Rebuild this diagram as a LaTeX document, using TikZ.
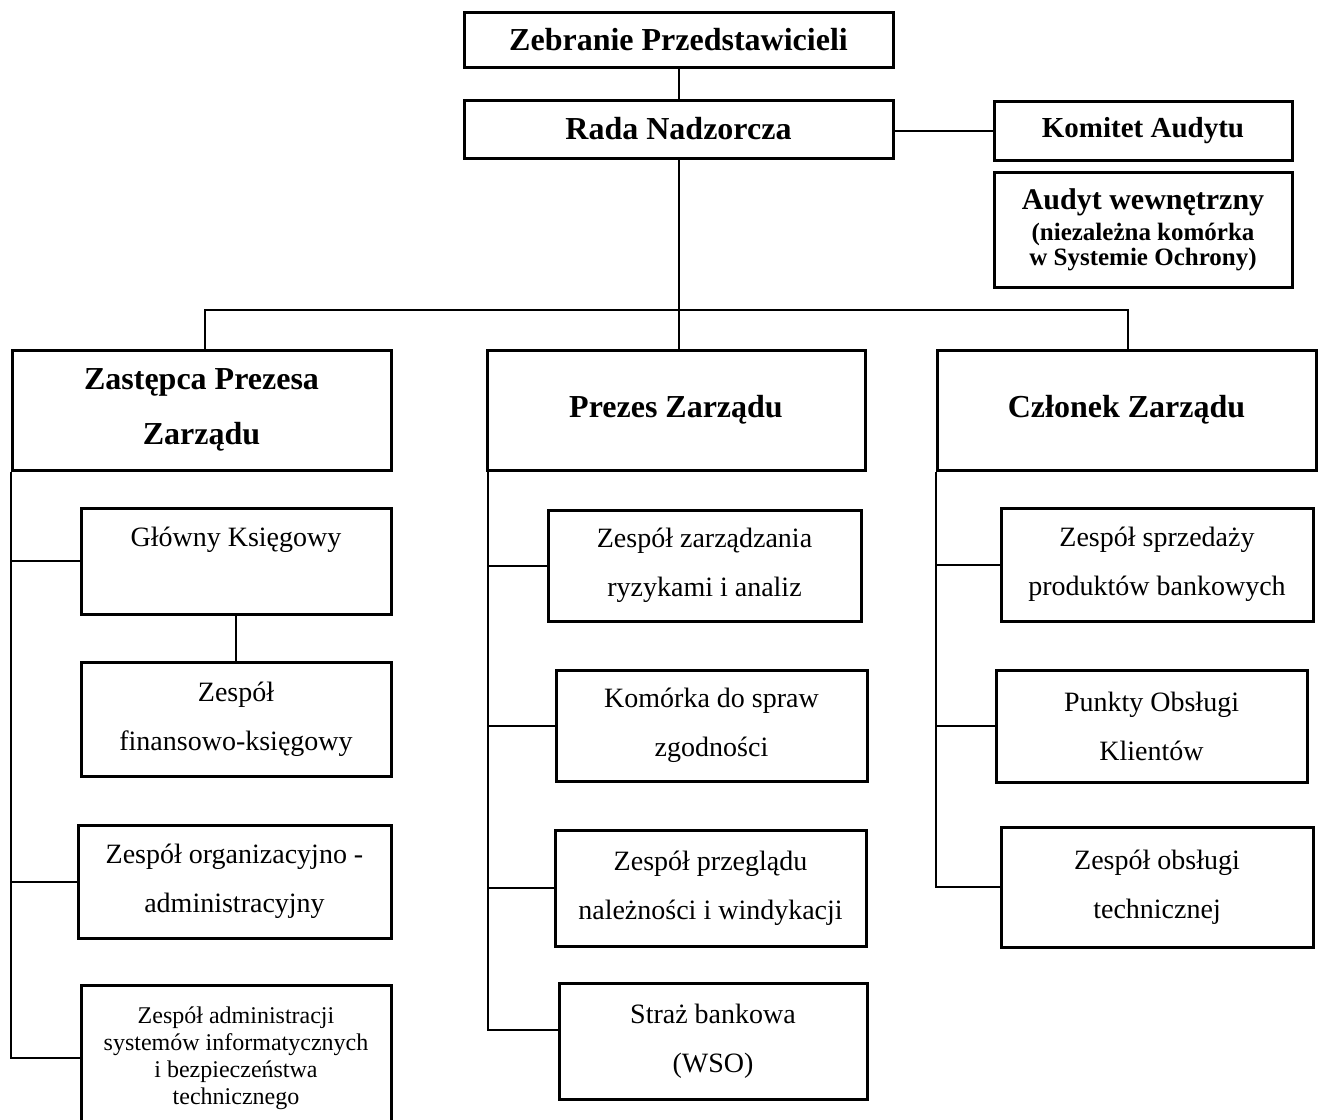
\documentclass[tikz,border=0pt]{standalone}
\usepackage{fontspec}
\setmainfont{Liberation Serif}
\usetikzlibrary{positioning}

\tikzset{
  unit/.style={draw, line width=1.5pt, inner sep=0pt, align=center,
    font=\fontsize{14}{24.5}\selectfont},
  head/.style={unit, font=\bfseries\fontsize{16}{27.5}\selectfont},
  link/.style={line width=1pt},
}

\begin{document}
\begin{tikzpicture}[x=0.5pt,y=-0.5pt]
  \useasboundingbox (0,0) rectangle (1325,1119);

  % Top level
  \node[head, minimum width=214.5pt, minimum height=27.5pt] (zebranie) at (678.5,39.5) {Zebranie Przedstawicieli};
  \node[head, minimum width=214.5pt, minimum height=29pt]   (rada)     at (678.5,129)  {Rada Nadzorcza};
  \node[head, minimum width=149pt, minimum height=29.5pt, font=\bfseries\fontsize{14.5}{17}\selectfont]
                                                            (komitet)  at (1143,130.5) {Komitet Audytu};
  \node[unit, minimum width=149pt, minimum height=57.5pt, font=\bfseries\fontsize{12.5}{12.5}\selectfont]
                                                            (audyt)    at (1143,229.5)
        {{\fontsize{15}{17}\selectfont Audyt wewnętrzny}\\[3pt] (niezależna komórka\\ w Systemie Ochrony)};

  % Board
  \node[head, minimum width=189.5pt, minimum height=60pt] (zastepca) at (201.5,410)  {Zastępca Prezesa\\ Zarządu};
  \node[head, minimum width=189pt,   minimum height=60pt] (prezes)   at (676,410)    {Prezes Zarządu};
  \node[head, minimum width=189.5pt, minimum height=60pt] (czlonek)  at (1126.5,410) {Członek Zarządu};

  % Units of the deputy president
  \node[unit, minimum width=155pt,  minimum height=53pt]   (glowny) at (236,561)    {Główny Księgowy\\[-8pt] \strut};
  \node[unit, minimum width=155pt,  minimum height=57pt]   (zfk)    at (236,719)    {Zespół\\ finansowo-księgowy};
  \node[unit, minimum width=156.5pt,minimum height=56.5pt] (zorg)   at (234.5,881.5) {Zespół organizacyjno -\\ administracyjny};
  \node[unit, minimum width=155pt,  minimum height=73pt, font=\fontsize{12}{13.5}\selectfont]
                                                           (zadm)   at (236,1058)
        {Zespół administracji\\ systemów informatycznych\\ i bezpieczeństwa\\ technicznego};

  % Units of the president
  \node[unit, minimum width=156.5pt, minimum height=55.5pt] (zrz)   at (704.5,565.5) {Zespół zarządzania\\ ryzykami i analiz};
  \node[unit, minimum width=155.5pt, minimum height=55.5pt] (kom)   at (711.5,725.5) {Komórka do spraw\\ zgodności};
  \node[unit, minimum width=155.5pt, minimum height=58pt]   (zprz)  at (710.5,888)   {Zespół przeglądu\\ należności i windykacji};
  \node[unit, minimum width=154pt,   minimum height=58pt]   (straz) at (713,1041)    {Straż bankowa\\ (WSO)};

  % Units of the board member
  \node[unit, minimum width=156pt,   minimum height=56.5pt] (zsp) at (1157,564.5)  {Zespół sprzedaży\\ produktów bankowych};
  \node[unit, minimum width=155.5pt, minimum height=56pt]   (pok) at (1151.5,726)  {Punkty Obsługi\\ Klientów};
  \node[unit, minimum width=156pt,   minimum height=60pt]   (zot) at (1157,887)    {Zespół obsługi\\ technicznej};

  % Connectors
  \coordinate (bar) at (678.5,310);
  \draw[link] (zebranie) -- (rada);
  \draw[link] (rada.east |- komitet) -- (komitet);
  \draw[link] (rada.south) -- (bar) -- (bar |- prezes.north);
  \draw[link] ([xshift=1.75pt]zastepca.north) |- (bar) -| ([xshift=0.75pt]czlonek.north);

  \draw[link] (zastepca.south west) |- (zadm.west);
  \draw[link] (zastepca.south west |- glowny.west) -- (glowny.west);
  \draw[link] (zastepca.south west |- zorg.west) -- (zorg.west);
  \draw[link] (glowny) -- (zfk);

  \draw[link] ([xshift=1pt]prezes.south west) |- ([yshift=5.5pt]straz.west);
  \draw[link] ([xshift=1pt]prezes.south west |- zrz.west) -- (zrz.west);
  \draw[link] ([xshift=1pt]prezes.south west |- kom.west) -- (kom.west);
  \draw[link] ([xshift=1pt]prezes.south west |- zprz.west) -- (zprz.west);

  \draw[link] (czlonek.south west) |- (zot.west);
  \draw[link] (czlonek.south west |- zsp.west) -- (zsp.west);
  \draw[link] (czlonek.south west |- pok.west) -- (pok.west);

\end{tikzpicture}
\end{document}
